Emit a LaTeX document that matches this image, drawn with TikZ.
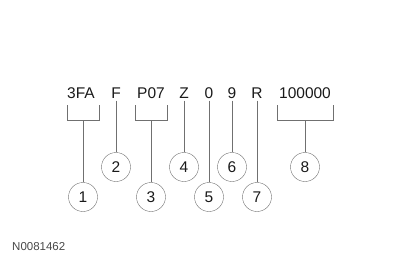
\documentclass[tikz,border=0pt]{standalone}
\usepackage{fontspec}
\setmainfont{Liberation Sans}
\usetikzlibrary{positioning}

\definecolor{ink}{HTML}{1A1A1A}
\definecolor{leader}{HTML}{707070}

\begin{document}
\begin{tikzpicture}[
    x=1pt, y=-1pt,
    code/.style={inner sep=2pt, text=ink, font=\fontsize{15.5}{18}\selectfont},
    callout/.style={draw=leader, circle, minimum size=29pt, inner sep=0pt, text=ink, font=\fontsize{15.5}{18}\selectfont},
    leaderline/.style={draw=leader, line width=0.8pt}
]
\useasboundingbox (0,0) rectangle (403,260);

\node[code] (wmi) at (81,93) {3FA};
\node[code] (brand) at (116,93) {F};
\node[code] (model) at (151,93) {P07};
\node[code] (restr) at (184,93) {Z};
\node[code] (check) at (209,93) {0};
\node[code] (year) at (232,93) {9};
\node[code] (plant) at (257,93) {R};
\node[code] (serial) at (305,93) {100000};

\node[callout] (c1) at (83,197) {1};
\node[callout] (c2) at (116,167) {2};
\node[callout] (c3) at (151,197) {3};
\node[callout] (c4) at (184,167) {4};
\node[callout] (c5) at (209,197) {5};
\node[callout] (c6) at (232,167) {6};
\node[callout] (c7) at (257,197) {7};
\node[callout] (c8) at (305,167) {8};

\coordinate (b1l) at (67,120);
\coordinate (b1r) at (99,120);
\coordinate (b3l) at (135,120);
\coordinate (b3r) at (167,120);
\coordinate (b8l) at (277,120);
\coordinate (b8r) at (333,120);

\draw[leaderline] (b1l) ++(0,-15) -- (b1l) -- (b1r) -- ++(0,-15);
\draw[leaderline] (b3l) ++(0,-15) -- (b3l) -- (b3r) -- ++(0,-15);
\draw[leaderline] (b8l) ++(0,-15) -- (b8l) -- (b8r) -- ++(0,-15);

\draw[leaderline] (c1) -- (c1 |- b1l);
\draw[leaderline] (c3) -- (c3 |- b3l);
\draw[leaderline] (c8) -- (c8 |- b8l);
\draw[leaderline] (brand.south) -- (c2.north);
\draw[leaderline] (restr.south) -- (c4.north);
\draw[leaderline] (check.south) -- (c5.north);
\draw[leaderline] (year.south) -- (c6.north);
\draw[leaderline] (plant.south) -- (c7.north);

\node[code, anchor=west, inner sep=0pt, font=\fontsize{11.5}{13}\selectfont, text=ink!80] (fig) at (12,247) {N0081462};

\end{tikzpicture}
\end{document}
